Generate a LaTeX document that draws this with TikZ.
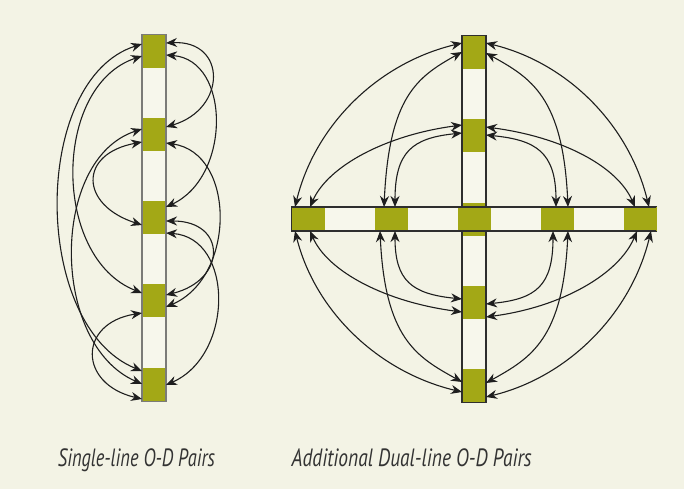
\documentclass[tikz,border=0pt]{standalone}
\usepackage{fontspec}
\usepackage{graphicx}
\newfontfamily\capfont{PT Sans}
\usetikzlibrary{arrows.meta}
\definecolor{bg}{HTML}{F3F3E5}
\definecolor{stripfill}{HTML}{F7F7EC}
\definecolor{olive}{HTML}{A3A816}
\definecolor{stripgray}{HTML}{7B7B78}
\definecolor{stripdark}{HTML}{2E2E2E}
\definecolor{ink}{HTML}{1E1E1E}
\definecolor{txt}{HTML}{333333}
\begin{document}
\begin{tikzpicture}[x=1pt,y=-1pt,
  od/.style={draw=ink, line width=1.1pt, >={Stealth[length=11pt,width=9pt,inset=3.5pt]}, <->},
  vbox/.style={fill=olive, draw=none, minimum width=24pt, minimum height=33pt, inner sep=0pt, outer sep=0pt},
  hbox/.style={fill=olive, draw=none, minimum width=33pt, minimum height=24pt, inner sep=0pt, outer sep=0pt},
  vstrip/.style={fill=stripfill, draw=none, minimum width=24pt, minimum height=366pt, inner sep=0pt, outer sep=0pt},
  hstrip/.style={fill=stripfill, draw=none, minimum width=364.3pt, minimum height=24pt, inner sep=0pt, outer sep=0pt},
  lbl/.style={text=txt, inner sep=0pt, anchor=base, font=\capfont\itshape\fontsize{25}{28}\selectfont}]
\fill[bg] (0,0) rectangle (684,489);
\useasboundingbox (0,0) rectangle (684,489);

% ---------- left diagram ----------
\node[vstrip] (LS) at (154,218) {};
\draw[stripgray, line width=1.4pt] (LS.north west) rectangle (LS.south east);
\node[vbox] (L1) at (154,51.5) {};
\node[vbox] (L2) at (154,134.5) {};
\node[vbox] (L3) at (154,217.5) {};
\node[vbox] (L4) at (154,300.5) {};
\node[vbox] (L5) at (154,384.5) {};
\draw[stripgray, line width=1.4pt] (LS.north west) -- (LS.south west) (LS.north east) -- (LS.south east);

% left side
\draw[od] ([yshift=7.5pt]L1.west) .. controls +(-111,35) and +(-111,-45) .. ([yshift=13.5pt]L5.west);
\draw[od] ([yshift=-4.5pt]L1.west) .. controls +(-90,30) and +(-90,-35) .. ([yshift=7.5pt]L4.west);
\draw[od] ([yshift=5.5pt]L2.west) .. controls +(-92,30) and +(-92,-40) .. ([yshift=0.5pt]L5.west);
\draw[od] ([yshift=-7.5pt]L2.west) .. controls +(-64,12) and +(-62,-20) .. ([yshift=-7.5pt]L3.west);
\draw[od] ([yshift=-12.5pt]L4.west) .. controls +(-64,10) and +(-64,-15) .. ([yshift=-14.5pt]L5.west);
% right side
\draw[od] ([yshift=8.5pt]L1.east) .. controls +(61,-3) and +(61,-18) .. ([yshift=7.5pt]L2.east);
\draw[od] ([yshift=-3.5pt]L1.east) .. controls +(65,5) and +(65,-30) .. ([yshift=10.5pt]L3.east);
\draw[od] ([yshift=-8.5pt]L2.east) .. controls +(70,10) and +(70,-30) .. ([yshift=-6.5pt]L4.east);
\draw[od] ([yshift=-3.5pt]L3.east) .. controls +(61,0) and +(61,-15) .. ([yshift=5.5pt]L4.east);
\draw[od] ([yshift=-15.5pt]L3.east) .. controls +(68,5) and +(68,-30) .. ([yshift=-0.5pt]L5.east);

% ---------- right diagram ----------
\node[vstrip] (RV) at (474,219) {};
\node[hstrip] (RH) at (473.85,219) {};
\draw[stripdark, line width=1.1pt] (RV.north west) rectangle (RV.south east);
\draw[stripdark, line width=1.1pt] (RH.north west) rectangle (RH.south east);
\node[vbox] (V1) at (474,52.5) {};
\node[vbox] (V2) at (474,135.5) {};
\node[vbox] (VC) at (474,219) {};
\node[vbox] (V4) at (474,302) {};
\node[vbox] (V5) at (474,385.5) {};
\node[hbox] (H1) at (308,219) {};
\node[hbox] (H2) at (391,219) {};
\node[hbox] (HC) at (474.5,219) {};
\node[hbox] (H4) at (557.3,219) {};
\node[hbox] (H5) at (640,219) {};
\draw[stripdark, line width=1.1pt] (RV.north west) -- (RV.north west |- RH.north) (RV.north east) -- (RV.north east |- RH.north)
  (RV.south west) -- (RV.south west |- RH.south) (RV.south east) -- (RV.south east |- RH.south);
\draw[stripdark, line width=1.1pt] (RH.north west) -- (RH.north east) (RH.south west) -- (RH.south east);

% top-left quadrant
\draw[od] ([xshift=-13pt]H1.north) .. controls +(20,-82) and +(-84,20) .. ([yshift=9.5pt]V1.west);
\draw[od] ([xshift=2pt]H1.north) .. controls +(18,-41) and +(-76,10) .. ([yshift=10.5pt]V2.west);
\draw[od] ([xshift=-7pt]H2.north) .. controls +(5,-110) and +(-45,25) .. ([yshift=0.5pt]V1.west);
\draw[od] ([xshift=4pt]H2.north) .. controls +(0,-55) and +(-50,5) .. ([yshift=2.5pt]V2.west);
% top-right quadrant
\draw[od] ([yshift=9.5pt]V1.east) .. controls +(82,20) and +(-20,-82) .. ([xshift=9pt]H5.north);
\draw[od] ([yshift=-0.5pt]V1.east) .. controls +(45,25) and +(-5,-110) .. ([xshift=10.7pt]H4.north);
\draw[od] ([yshift=8.5pt]V2.east) .. controls +(76,10) and +(-18,-41) .. ([xshift=-5pt]H5.north);
\draw[od] ([yshift=0.5pt]V2.east) .. controls +(50,5) and +(0,-55) .. ([xshift=-1.3pt]H4.north);
% bottom-left quadrant
\draw[od] ([xshift=-13pt]H1.south) .. controls +(20,80) and +(-84,-20) .. ([yshift=-6.5pt]V5.west);
\draw[od] ([xshift=2pt]H1.south) .. controls +(18,41) and +(-76,-10) .. ([yshift=-10pt]V4.west);
\draw[od] ([xshift=-11pt]H2.south) .. controls +(5,108) and +(-45,-25) .. ([yshift=3.5pt]V5.west);
\draw[od] ([xshift=4pt]H2.south) .. controls +(0,50) and +(-50,-5) .. ([yshift=3pt]V4.west);
% bottom-right quadrant
\draw[od] ([yshift=-2pt]V4.east) .. controls +(50,-5) and +(0,55) .. ([xshift=-4.3pt]H4.south);
\draw[od] ([yshift=2.5pt]V5.east) .. controls +(45,-25) and +(-5,108) .. ([xshift=10.7pt]H4.south);
\draw[od] ([yshift=-15pt]V4.east) .. controls +(76,-10) and +(-18,43) .. ([xshift=-3pt]H5.south);
\draw[od] ([yshift=-11.5pt]V5.east) .. controls +(82,-20) and +(-20,83) .. ([xshift=11pt]H5.south);

% ---------- labels ----------
\node[lbl] (t1) at (136.5,466) {\resizebox{157pt}{\height}{Single-line O-D Pairs}};
\node[lbl] (t2) at (411.7,466) {\resizebox{240pt}{\height}{Additional Dual-line O-D Pairs}};
\end{tikzpicture}
\end{document}
